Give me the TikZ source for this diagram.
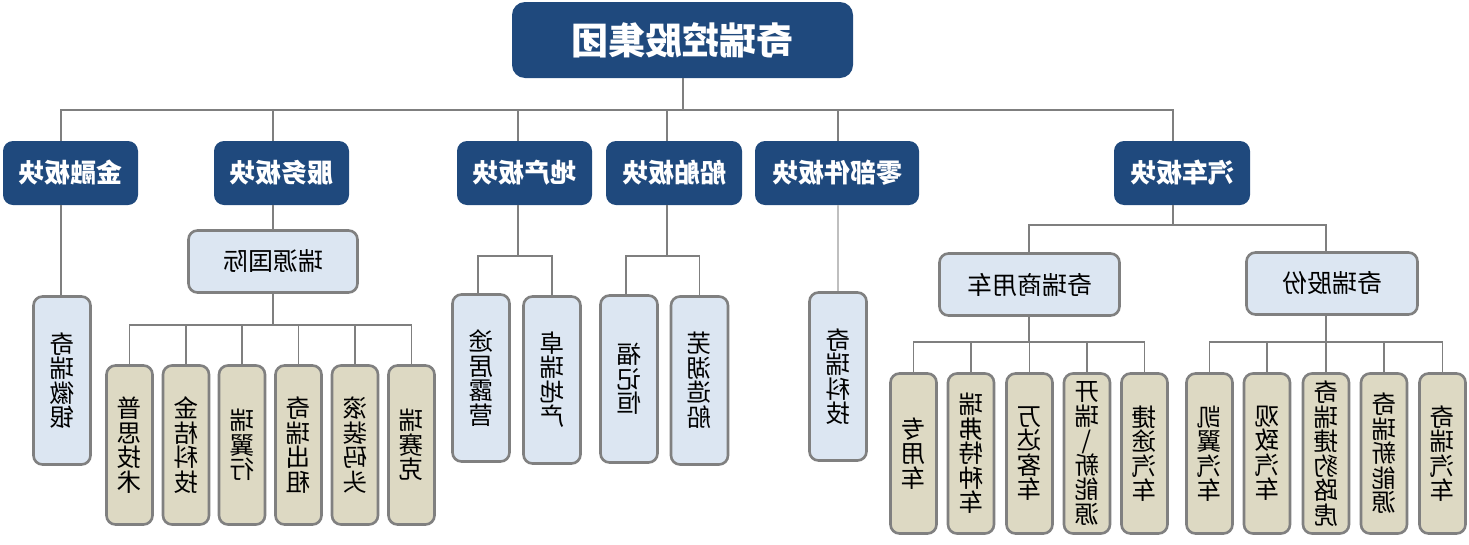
\documentclass[tikz,border=0pt]{standalone}
\usepackage{fontspec}
\newfontfamily\cjk{Noto Sans CJK SC}
\newcommand\mr[1]{\reflectbox{#1}}
\newcommand\vtext[1]{\reflectbox{\vbox{\hsize=40pt\parindent=0pt\baselineskip=24.5pt\lineskiplimit=-100pt\lineskip=0pt\centering #1\par}}}
\definecolor{dblue}{HTML}{1F497D}
\definecolor{lblue}{HTML}{DCE6F2}
\definecolor{tanc}{HTML}{DDD9C3}
\definecolor{bgray}{HTML}{808080}
\definecolor{cgray}{HTML}{7F7F7F}
\definecolor{lgray}{HTML}{BFBFBF}
\tikzset{
  sz/.style 2 args={minimum width=#1pt, minimum height=#2pt},
  dark/.style={fill=dblue, rounded corners=10pt, text=white, inner sep=0pt,
    font=\cjk\bfseries\fontsize{26}{28}\selectfont},
  titlebox/.style={dark, rounded corners=13pt, font=\cjk\bfseries\fontsize{37}{39}\selectfont},
  lbox/.style={draw=bgray, line width=2.6pt, fill=lblue, rounded corners=9pt, inner sep=0pt,
    font=\cjk\fontsize{25}{28}\selectfont},
  vbox/.style={lbox, font=\cjk\fontsize{24.5}{24.5}\selectfont},
  tbox/.style={vbox, fill=tanc},
  conn/.style={draw=cgray, line width=1.2pt}
}
\begin{document}
\begin{tikzpicture}[x=1pt,y=-1pt]
\useasboundingbox (0,0) rectangle (1469,544);
% top
\node[titlebox, sz={341}{76}] (top) at (682.5,40) {\mr{奇瑞控股集团}};
% level 1
\node[dark, sz={135}{64}] (jr)  at (70.5,173)  {\mr{金融板块}};
\node[dark, sz={135}{64}] (fw)  at (281.5,173) {\mr{服务板块}};
\node[dark, sz={135}{64}] (dc)  at (524.5,173) {\mr{地产板块}};
\node[dark, sz={136}{64}] (cb)  at (674,173)   {\mr{船舶板块}};
\node[dark, sz={164}{64}] (lbj) at (837,173)   {\mr{零部件板块}};
\node[dark, sz={136}{64}] (qc)  at (1182,173)  {\mr{汽车板块}};
% level 2
\node[vbox, sz={57}{168}] (hy) at (62,380.5) {\vtext{奇\\瑞\\徽\\银}};
\node[lbox, sz={169}{62}] (ryi) at (273,261.5) {\mr{瑞源国际}};
\node[vbox, sz={57}{167}] (tj) at (481,378) {\vtext{途\\居\\露\\营}};
\node[vbox, sz={57}{167}] (zr) at (552,380) {\vtext{卓\\瑞\\地\\产}};
\node[vbox, sz={57}{167}] (fjh) at (629,379) {\vtext{福\\记\\恒}};
\node[vbox, sz={57}{168}] (wh) at (699.5,380.5) {\vtext{芜\\湖\\造\\船}};
\node[vbox, sz={57}{168}] (kj) at (838,376.5) {\vtext{奇\\瑞\\科\\技}};
\node[lbox, sz={180}{62}] (sy) at (1029.5,284.5) {\mr{奇瑞商用车}};
\node[lbox, sz={171}{62}] (gf) at (1332,283.5) {\mr{奇瑞股份}};
% level 3 (services)
\node[tbox, sz={46}{159}] (ps) at (129.5,445) {\vtext{普\\思\\技\\术}};
\node[tbox, sz={46}{159}] (jj) at (186,445) {\vtext{金\\桔\\科\\技}};
\node[tbox, sz={46}{159}] (ryx) at (242,445) {\vtext{瑞\\翼\\行}};
\node[tbox, sz={46}{159}] (cz) at (298.5,445) {\vtext{奇\\瑞\\出\\租}};
\node[tbox, sz={46}{159}] (gz) at (355,445) {\vtext{滚\\装\\码\\头}};
\node[tbox, sz={46}{159}] (rsk) at (411.5,445) {\vtext{瑞\\赛\\克}};
% level 3 (commercial)
\node[tbox, sz={46}{160}] (zyc) at (913.5,453.5) {\vtext{专\\用\\车}};
\node[tbox, sz={46}{160}] (rf) at (971,453.5) {\vtext{瑞\\弗\\特\\种\\车}};
\node[tbox, sz={46}{160}] (wd) at (1029.5,453.5) {\vtext{万\\达\\客\\车}};
\node[tbox, sz={46}{160}] (kr) at (1087,453.5) {\vtext{开\\瑞\\\textbackslash\\新\\能\\源}};
\node[tbox, sz={46}{160}] (jt) at (1144.5,453.5) {\vtext{捷\\途\\汽\\车}};
% level 3 (shares)
\node[tbox, sz={46}{160}] (ky) at (1209.5,453.5) {\vtext{凯\\翼\\汽\\车}};
\node[tbox, sz={46}{160}] (gzq) at (1267,453.5) {\vtext{观\\致\\汽\\车}};
\node[tbox, sz={46}{160}] (jb) at (1326,453.5) {\vtext{奇\\瑞\\捷\\豹\\路\\虎}};
\node[tbox, sz={46}{160}] (xny) at (1384,453.5) {\vtext{奇\\瑞\\新\\能\\源}};
\node[tbox, sz={46}{160}] (qrqc) at (1442.5,453.5) {\vtext{奇\\瑞\\汽\\车}};
% connectors
\coordinate (b0) at (683,110);
\draw[conn] (top.south -| b0) -- (b0);
\draw[conn] (b0) -| (jr.north -| 61,0);
\draw[conn] (b0) -| (fw.north -| 273,0);
\draw[conn] (b0) -| (dc.north -| 518,0);
\draw[conn] (b0) -| (cb.north -| 667,0);
\draw[conn] (b0) -| (lbj.north -| 838,0);
\draw[conn] (b0) -| (qc.north -| 1173,0);
\draw[conn] (jr.south -| 61,0) -- (hy.north -| 61,0);
\draw[conn] (fw.south -| 273,0) -- (ryi.north -| 273,0);
\coordinate (b2) at (273,325);
\draw[conn] (ryi.south -| b2) -- (b2);
\foreach \n in {ps,jj,ryx,cz,gz,rsk} \draw[conn] (b2) -| (\n.north);
\coordinate (b3) at (518,256);
\draw[conn] (dc.south -| b3) -- (b3);
\draw[conn] (b3) -| (tj.north -| 478,0);
\draw[conn] (b3) -| (zr.north);
\coordinate (b4) at (667,256);
\draw[conn] (cb.south -| b4) -- (b4);
\draw[conn] (b4) -| (fjh.north -| 626,0);
\draw[conn] (b4) -| (wh.north);
\draw[draw=lgray, line width=1.2pt] (lbj.south -| 838,0) -- (kj.north);
\coordinate (b5) at (1173,225);
\draw[conn] (qc.south -| b5) -- (b5);
\draw[conn] (b5) -| (sy.north -| 1029,0);
\draw[conn] (b5) -| (gf.north -| 1326,0);
\coordinate (b6) at (1029,342);
\draw[conn] (sy.south -| b6) -- (b6);
\foreach \n in {zyc,rf,wd,kr,jt} \draw[conn] (b6) -| (\n.north);
\coordinate (b7) at (1326,342);
\draw[conn] (gf.south -| b7) -- (b7);
\foreach \n in {ky,gzq,jb,xny,qrqc} \draw[conn] (b7) -| (\n.north);
\end{tikzpicture}
\end{document}
